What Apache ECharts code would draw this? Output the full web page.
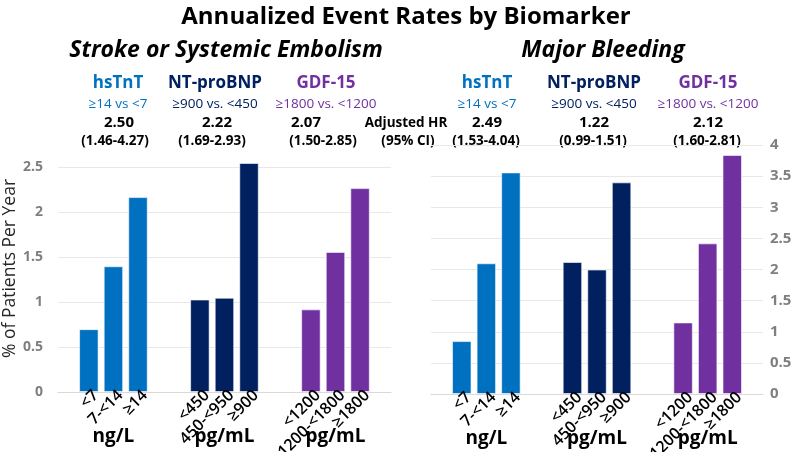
<!DOCTYPE html>
<html>
<head>
<meta charset="utf-8">
<script src="https://cdn.jsdelivr.net/npm/echarts@6/dist/echarts.min.js"></script>
<style>
html, body { margin: 0; padding: 0; background: #fff; }
#chart { width: 800px; height: 452px; }
</style>
</head>
<body>
<div id="chart"></div>
<script>
var biomarkers = ['hsTnT', 'NT-proBNP', 'GDF-15'];
var units = ['ng/L', 'pg/mL', 'pg/mL'];
var tierLabels = [
    ['<7', '7-<14', '≥14'],
    ['<450', '450-<950', '≥900'],
    ['<1200', '1200-<1800', '≥1800']
];
var comparisons = ['≥14 vs <7', '≥900 vs. <450', '≥1800 vs. <1200'];
var strokeHR = ['2.50', '2.22', '2.07'];
var strokeCI = ['(1.46-4.27)', '(1.69-2.93)', '(1.50-2.85)'];
var bleedHR = ['2.49', '1.22', '2.12'];
var bleedCI = ['(1.53-4.04)', '(0.99-1.51)', '(1.60-2.81)'];
// annualized rates, per biomarker: low / mid / high tier
var strokeRates = [[0.70, 1.40, 2.17], [1.03, 1.05, 2.55], [0.92, 1.56, 2.27]];
var bleedRates = [[0.85, 2.10, 3.56], [2.12, 2.00, 3.40], [1.15, 2.42, 3.84]];

var colors = ['#0070C0', '#002060', '#7030A0'];
var fontFam = '"Open Sans", sans-serif';

var chart = echarts.init(document.getElementById('chart'));

// header text blocks above each panel
var graphics = [];
function txt(x, y, s, color, size, weight, style) {
    graphics.push({
        type: 'text', x: x, y: y, silent: true,
        style: {
            text: s, fill: color, align: 'center', verticalAlign: 'middle',
            font: (style || 'normal') + ' ' + (weight || 'normal') + ' ' + size + 'px ' + fontFam
        }
    });
}
txt(406, 17, 'Annualized Event Rates by Biomarker', '#000', 24, 'bold');
txt(226, 50, 'Stroke or Systemic Embolism', '#000', 23, 'bold', 'italic');
txt(603, 50, 'Major Bleeding', '#000', 23, 'bold', 'italic');

var leftX = [118, 215, 326];
var rightX = [487, 594, 708];
var leftHrX = [119, 217, 306];
for (var i = 0; i < biomarkers.length; i++) {
    txt(leftX[i], 83, biomarkers[i], colors[i], 17, 'bold');
    txt(leftX[i], 104, comparisons[i], colors[i], 13.5);
    txt(leftHrX[i], 123, strokeHR[i], '#000', 15, 'bold');
    txt(leftX[i] - 3, 141, strokeCI[i], '#000', 13.5, 'bold');

    txt(rightX[i], 83, biomarkers[i], colors[i], 17, 'bold');
    txt(rightX[i], 104, comparisons[i], colors[i], 13.5);
    txt(rightX[i], 123, bleedHR[i], '#000', 15, 'bold');
    txt(rightX[i] - 1, 141, bleedCI[i], '#000', 13.5, 'bold');
}
txt(406, 123, 'Adjusted HR', '#000', 13.5, 'bold');
txt(408, 141, '(95% CI)', '#000', 13.5, 'bold');

function makeSeries(rates, panel) {
    var list = [];
    for (var t = 0; t < 3; t++) {
        (function (tier) {
            list.push({
                type: 'bar',
                xAxisIndex: panel,
                yAxisIndex: panel,
                barWidth: 19.5,
                barGap: '26%',
                data: biomarkers.map(function (b, i) {
                    return { value: rates[i][tier], itemStyle: { color: colors[i] } };
                }),
                itemStyle: { borderColor: 'rgba(255,255,255,0.6)', borderWidth: 1 },
                label: {
                    show: true,
                    position: 'bottom',
                    distance: 5,
                    offset: [8, 2],
                    rotate: 45,
                    align: 'right',
                    verticalAlign: 'middle',
                    overflow: 'none',
                    color: '#000',
                    fontSize: 16,
                    fontWeight: 600,
                    fontFamily: fontFam,
                    formatter: function (p) { return tierLabels[p.dataIndex][tier]; }
                }
            });
        })(t);
    }
    return list;
}

function xAxisFor(panel) {
    return {
        type: 'category',
        gridIndex: panel,
        data: biomarkers,
        axisTick: { show: false },
        axisLine: { lineStyle: { color: '#d9d9d9' } },
        axisLabel: {
            margin: 35,
            color: '#000',
            fontSize: 19,
            fontWeight: 'bold',
            fontFamily: fontFam,
            formatter: function (v, idx) { return units[idx]; }
        }
    };
}

var option = {
    animation: false,
    backgroundColor: '#fff',
    graphic: graphics,
    grid: [
        { left: 57, right: 409, top: 145, bottom: 60 },
        { left: 431, right: 37, top: 145, bottom: 58 }
    ],
    xAxis: [xAxisFor(0), xAxisFor(1)],
    yAxis: [
        {
            type: 'value', gridIndex: 0, min: 0, max: 2.75, interval: 0.5,
            name: '% of Patients Per Year', nameLocation: 'middle', nameRotate: 90, nameGap: 37,
            nameTextStyle: { color: '#262626', fontSize: 17.5, fontFamily: fontFam },
            axisLine: { show: false }, axisTick: { show: false },
            axisLabel: { color: '#7f7f7f', fontSize: 14, fontWeight: 'bold', fontFamily: fontFam, margin: 15, showMaxLabel: false },
            splitLine: { lineStyle: { color: '#e8e8e8' }, showMaxLine: false }
        },
        {
            type: 'value', gridIndex: 1, position: 'right', min: 0, max: 4, interval: 0.5,
            axisLine: { show: false }, axisTick: { show: false },
            axisLabel: { color: '#7f7f7f', fontSize: 15, fontWeight: 'bold', fontFamily: fontFam, margin: 7 },
            splitLine: { lineStyle: { color: '#e8e8e8' } }
        }
    ],
    series: makeSeries(strokeRates, 0).concat(makeSeries(bleedRates, 1))
};

chart.setOption(option);
</script>
</body>
</html>
